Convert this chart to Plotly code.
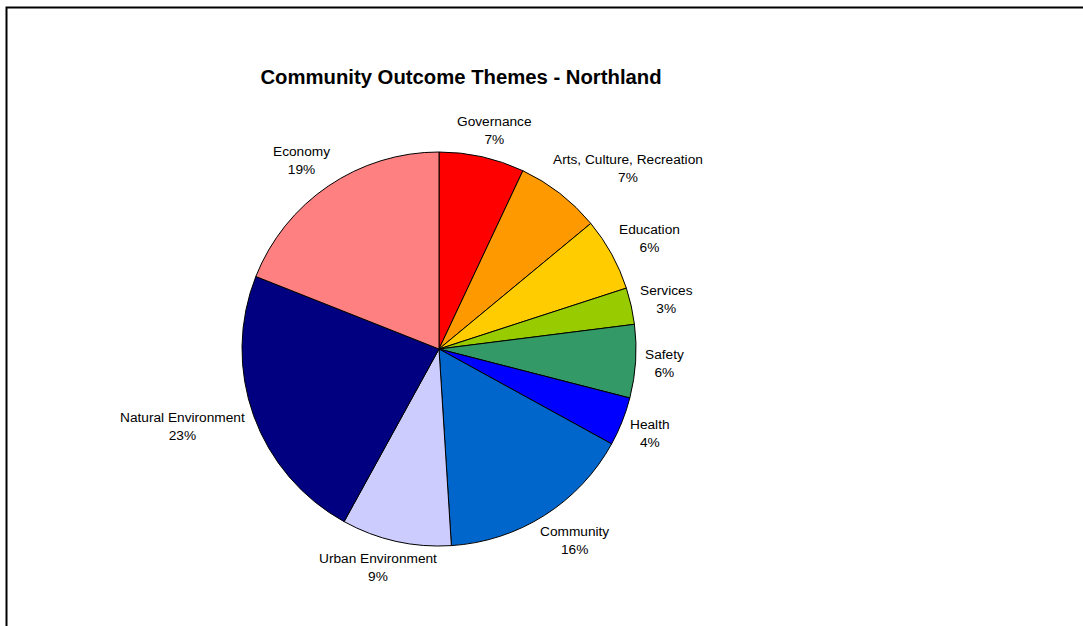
import math
import plotly.graph_objects as go

# Community outcome themes, share of outcomes (%), clockwise from 12 o'clock
themes = [
    "Governance",
    "Arts, Culture, Recreation",
    "Education",
    "Services",
    "Safety",
    "Health",
    "Community",
    "Urban Environment",
    "Natural Environment",
    "Economy",
]
shares = [7, 7, 6, 3, 6, 4, 16, 9, 23, 19]
slice_colors = [
    "#FF0000", "#FF9900", "#FFCC00", "#99CC00", "#339966",
    "#0000FF", "#0066CC", "#CCCCFF", "#000080", "#FF8080",
]

W, H = 1083, 626
cx, cy, r = 439, 349, 197      # pie centre and radius in pixels
label_gap = 9                  # distance between rim and label box
font_family = "Liberation Sans, Arial, sans-serif"
label_size = 13.7
line_height = 1.3 * label_size

# Arial advance widths (1/1000 em) for measuring label boxes
ARIAL = {
    " ": 278, "%": 889, ",": 278,
    "A": 667, "C": 722, "E": 667, "G": 778, "H": 722, "N": 722,
    "R": 722, "S": 667, "U": 722,
    "a": 556, "b": 556, "c": 500, "d": 556, "e": 556, "f": 278,
    "h": 556, "i": 222, "l": 222, "m": 833, "n": 556, "o": 556,
    "r": 333, "s": 500, "t": 278, "u": 556, "v": 500, "y": 500,
}


def text_width(s, size):
    return sum(ARIAL.get(ch, 556) for ch in s) * size / 1000.0


fig = go.Figure(
    go.Pie(
        labels=themes,
        values=shares,
        sort=False,
        direction="clockwise",
        rotation=0,
        marker=dict(colors=slice_colors, line=dict(color="#000000", width=1)),
        textinfo="none",
        showlegend=False,
        hoverinfo="label+percent",
        domain=dict(
            x=[(cx - r) / W, (cx + r) / W],
            y=[(H - cy - r) / H, (H - cy + r) / H],
        ),
    )
)

# Outside data labels: the box touches a point just beyond the rim on the
# slice's mid-angle, its anchor sliding round the box edge with the angle.
total = float(sum(shares))
annotations = []
cum = 0.0
for name, val in zip(themes, shares):
    mid = (cum + val / 2.0) / total * 360.0
    cum += val
    pct = f"{round(val / total * 100):d}%"
    hw = max(text_width(name, label_size), text_width(pct, label_size)) / 2.0
    hh = line_height
    a = math.radians(mid)
    px = cx + (r + label_gap) * math.sin(a)
    py = cy - (r + label_gap) * math.cos(a)
    t = ((mid + 45.0) % 360.0) - 45.0      # in [-45, 315)
    if t < 45:          # label above the pie: bottom edge faces the rim
        bx, by = px + hw * t / 45.0, py - hh
    elif t < 135:       # right side: left edge faces the rim
        bx, by = px + hw, py - hh * (90.0 - t) / 45.0
    elif t < 225:       # below: top edge faces the rim
        bx, by = px + hw * (180.0 - t) / 45.0, py + hh
    else:               # left side: right edge faces the rim
        bx, by = px - hw, py - hh * (t - 270.0) / 45.0
    annotations.append(
        dict(
            text=f"{name}<br>{pct}",
            x=bx / W, y=1 - by / H,
            xref="paper", yref="paper",
            xanchor="center", yanchor="middle",
            align="center",
            showarrow=False,
            font=dict(family=font_family, size=label_size, color="#000000"),
        )
    )

fig.update_layout(
    width=W,
    height=H,
    margin=dict(l=0, r=0, t=0, b=0),
    paper_bgcolor="#FFFFFF",
    plot_bgcolor="#FFFFFF",
    title=dict(
        text="<b>Community Outcome Themes - Northland</b>",
        x=461 / W,
        xanchor="center",
        y=1 - 77 / H,
        yanchor="middle",
        font=dict(family=font_family, size=20.3, color="#000000"),
    ),
    annotations=annotations,
    shapes=[
        dict(
            type="rect",
            xref="paper", yref="paper",
            x0=6.5 / W, y0=-0.05,
            x1=1.05, y1=1 - 7.5 / H,
            line=dict(color="#000000", width=2),
            fillcolor="rgba(0,0,0,0)",
            layer="above",
        )
    ],
)

fig.write_html("out.html")
